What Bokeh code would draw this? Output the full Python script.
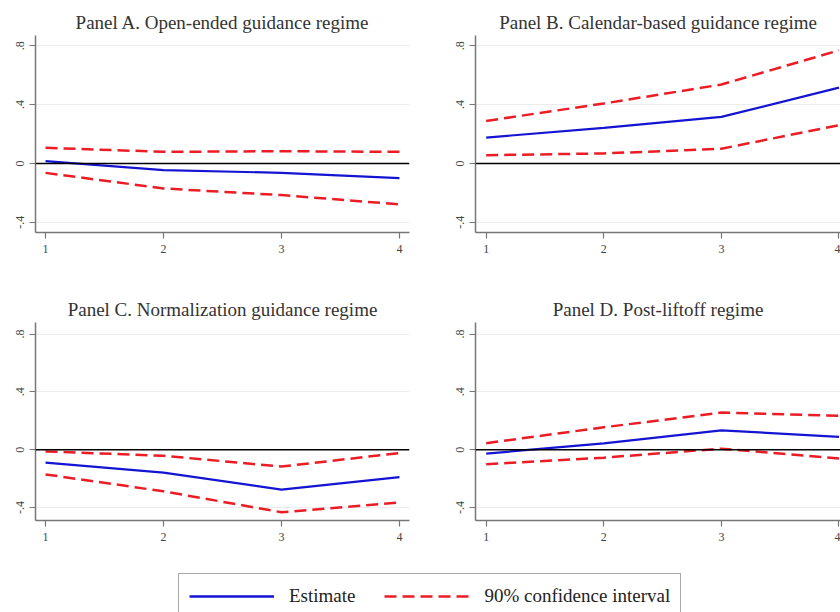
from bokeh.plotting import figure
from bokeh.layouts import column, row
from bokeh.models import Range1d, FixedTicker, Span, Legend, LegendItem
from bokeh.embed import file_html
from bokeh.resources import INLINE

# ---- data ----
horizons = [1, 2, 3, 4]
y_ticks = [-0.4, 0, 0.4, 0.8]
y_tick_labels = {-0.4: "-.4", 0: "0", 0.4: ".4", 0.8: ".8"}

titles = ["Panel A. Open-ended guidance regime",
          "Panel B. Calendar-based guidance regime",
          "Panel C. Normalization guidance regime",
          "Panel D. Post-liftoff regime"]

a_est = [0.016, -0.045, -0.064, -0.100]
a_hi = [0.106, 0.079, 0.083, 0.079]
a_lo = [-0.064, -0.170, -0.215, -0.278]

b_est = [0.176, 0.242, 0.316, 0.515]
b_hi = [0.289, 0.407, 0.536, 0.768]
b_lo = [0.056, 0.068, 0.100, 0.260]

c_est = [-0.089, -0.159, -0.276, -0.190]
c_hi = [-0.012, -0.042, -0.117, -0.023]
c_lo = [-0.171, -0.288, -0.433, -0.365]

d_est = [-0.027, 0.043, 0.134, 0.089]
d_hi = [0.045, 0.155, 0.257, 0.234]
d_lo = [-0.100, -0.055, 0.007, -0.061]

legend_labels = ["Estimate", "90% confidence interval"]

# ---- styles ----
BLUE = "#1414d2"
RED = "#ec1c24"
FONT = "Liberation Serif"
DASH = "12 6"


def make_panel(est, hi, lo, title, xr, yr, width, height, bl, br, bt, bb):
    p = figure(width=width, height=height, x_range=Range1d(*xr), y_range=Range1d(*yr),
               output_backend="svg", toolbar_location=None, title=title,
               min_border_left=bl, min_border_right=br, min_border_top=bt, min_border_bottom=bb)
    p.title.align = "center"
    p.title.text_font = FONT
    p.title.text_font_size = "19px"
    p.title.text_font_style = "normal"
    p.title.text_color = "#333333"
    p.title.standoff = 6
    p.outline_line_color = None
    p.xgrid.visible = False
    yt = FixedTicker(ticks=y_ticks)
    p.yaxis.ticker = yt
    p.ygrid.ticker = yt
    p.ygrid.grid_line_color = "#ececec"
    p.ygrid.grid_line_width = 1
    p.xaxis.ticker = FixedTicker(ticks=horizons)
    p.yaxis.major_label_overrides = y_tick_labels
    p.yaxis.major_label_orientation = "vertical"
    for ax in (p.xaxis, p.yaxis):
        ax.axis_line_color = "#777777"
        ax.axis_line_width = 1.5
        ax.major_tick_line_color = "#777777"
        ax.major_tick_line_width = 1.2
        ax.major_tick_out = 6
        ax.major_tick_in = 0
        ax.minor_tick_line_color = None
        ax.major_label_text_font = FONT
        ax.major_label_text_font_size = "12px"
        ax.major_label_text_color = "#444444"
    p.xaxis.major_label_standoff = 6
    p.yaxis.major_label_standoff = 5

    p.add_layout(Span(location=0, dimension="width", line_color="black", line_width=1.5))
    p.line(horizons, hi, line_color=RED, line_width=2.5, line_dash=DASH)
    p.line(horizons, lo, line_color=RED, line_width=2.5, line_dash=DASH)
    p.line(horizons, est, line_color=BLUE, line_width=2.2)
    return p


yr1 = (-0.469, 0.869)
yr2 = (-0.49, 0.88)
xr_left = (0.915, 4.085)
xr_right = (0.909, 4.013)

pA = make_panel(a_est, a_hi, a_lo, titles[0], xr_left, yr1, 448, 290, 35, 39, 35, 58)
pB = make_panel(b_est, b_hi, b_lo, titles[1], xr_right, yr1, 392, 290, 27, 0, 35, 58)
pC = make_panel(c_est, c_hi, c_lo, titles[2], xr_left, yr2, 448, 270, 35, 39, 32, 40)
pD = make_panel(d_est, d_hi, d_lo, titles[3], xr_right, yr2, 392, 270, 27, 0, 32, 40)

# ---- legend strip ----
leg = figure(width=840, height=52, x_range=Range1d(100, 101), y_range=Range1d(100, 101),
             output_backend="svg", toolbar_location=None, title=None,
             x_axis_type=None, y_axis_type=None, min_border=0)
leg.outline_line_color = None
leg.grid.visible = False
r1 = leg.line(horizons, a_est, line_color=BLUE, line_width=2.5)
r2 = leg.line(horizons, a_hi, line_color=RED, line_width=2.5, line_dash=DASH)
legend = Legend(items=[LegendItem(label=legend_labels[0], renderers=[r1]),
                       LegendItem(label=legend_labels[1], renderers=[r2])],
                orientation="horizontal", location=(178, -7), margin=0,
                glyph_width=85, glyph_height=24, label_height=24, label_standoff=15,
                spacing=29, padding=10,
                border_line_color="#555555", border_line_width=1.5,
                label_text_font=FONT, label_text_font_size="19px",
                label_text_color="#222222", background_fill_color="white",
                background_fill_alpha=1.0)
leg.add_layout(legend)

layout = column(row(pA, pB), row(pC, pD), leg)

open("out.html", "w").write(file_html(layout, INLINE))
